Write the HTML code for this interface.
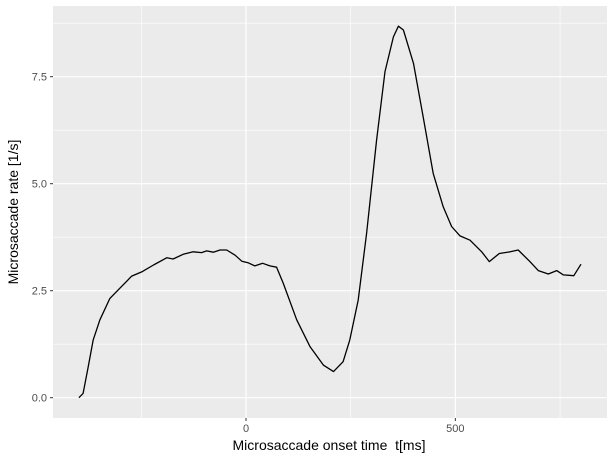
<!DOCTYPE html>
<html><head><meta charset="utf-8"><style>
body{margin:0;background:#fff;font-family:"Liberation Sans",sans-serif}
svg{display:block}
</style></head><body>
<svg id="chart" width="614" height="461" xmlns="http://www.w3.org/2000/svg">
<rect x="53" y="6" width="554" height="412" fill="#ebebeb"/>
<g id="grid"></g><g id="axes"></g>
<path id="line" fill="none" stroke="#000" stroke-width="1.3" stroke-linejoin="round"/>
<text x="329" y="450" font-size="14" text-anchor="middle" fill="#000" style="white-space:pre">Microsaccade onset time&#160; t[ms]</text>
<text transform="translate(18,212) rotate(-90)" font-size="14" text-anchor="middle" fill="#000">Microsaccade rate [1/s]</text>
</svg>
<script>
const times=[-399,-389,-377,-365,-349,-325,-301,-273,-249,-221,-189,-174,-150,-126,-106,-94,-78,-62,-46,-26,-10,6,21,40,57,73,89,121,153,185,209,232,248,268,288,312,332,352,364,376,400,423,447,471,491,511,535,563,581,605,631,650,678,698,722,742,758,783,800];
const rates=[0,0.10,0.72,1.35,1.82,2.32,2.56,2.84,2.94,3.10,3.27,3.24,3.35,3.41,3.39,3.43,3.40,3.45,3.45,3.33,3.19,3.15,3.08,3.14,3.08,3.05,2.67,1.82,1.19,0.76,0.61,0.84,1.35,2.28,3.84,6.02,7.62,8.43,8.68,8.59,7.81,6.57,5.24,4.46,4.00,3.78,3.68,3.41,3.18,3.37,3.41,3.45,3.18,2.97,2.89,2.97,2.87,2.85,3.12];
const xTicks=[0,500];
const xMinor=[-250,250,750];
const yTicks=[0,2.5,5,7.5];
const yTickLabels=["0.0","2.5","5.0","7.5"];
const yMinor=[1.25,3.75,6.25,8.75];
const xs=v=>246+v*0.4187;
const ys=v=>397.7-v*42.8;
const NS="http://www.w3.org/2000/svg";
const grid=document.getElementById('grid'),axes=document.getElementById('axes');
function ln(p,x1,y1,x2,y2,c,w){const l=document.createElementNS(NS,'line');l.setAttribute('x1',x1);l.setAttribute('y1',y1);l.setAttribute('x2',x2);l.setAttribute('y2',y2);l.setAttribute('stroke',c);l.setAttribute('stroke-width',w);p.appendChild(l);return l;}
function tx(x,y,s,a){const t=document.createElementNS(NS,'text');t.setAttribute('x',x);t.setAttribute('y',y);t.setAttribute('font-size','11');t.setAttribute('fill','#4d4d4d');t.setAttribute('text-anchor',a);t.textContent=s;axes.appendChild(t);return t;}
xMinor.forEach(v=>{const l=ln(grid,xs(v),6,xs(v),418,'#fff',0.6);

});
yMinor.forEach(v=>{const l=ln(grid,53,ys(v),607,ys(v),'#fff',0.6);

});
xTicks.forEach(v=>{const l=ln(grid,xs(v),6,xs(v),418,'#fff',1.2);


const k=ln(axes,xs(v),418,xs(v),421,'#333',1);


const t=tx(xs(v),432,String(v),'middle');

});
yTicks.forEach((v,i)=>{const l=ln(grid,53,ys(v),607,ys(v),'#fff',1.2);


const k=ln(axes,50,ys(v),53,ys(v),'#333',1);


const t=tx(47,ys(v)+4,yTickLabels[i],'end');

});
document.getElementById('line').setAttribute('d',times.map((t,i)=>(i?'L':'M')+xs(t).toFixed(1)+','+ys(rates[i]).toFixed(1)).join(''));
</script>
</body></html>
